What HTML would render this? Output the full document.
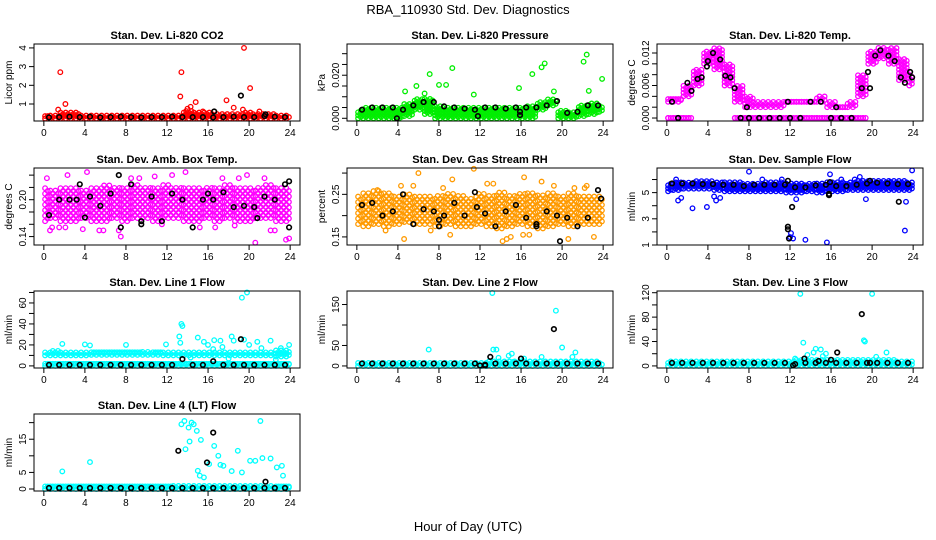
<!DOCTYPE html>
<html><head><meta charset="utf-8"><style>
html,body{margin:0;padding:0;background:#fff;}
svg{display:block;font-family:"Liberation Sans",Arial,sans-serif;}
</style></head><body>
<svg id="chart" width="936" height="540" viewBox="0 0 936 540" xmlns="http://www.w3.org/2000/svg">
<rect x="0" y="0" width="936" height="540" fill="#fff"/>
<text x="468" y="14" text-anchor="middle" font-size="13">RBA_110930  Std. Dev. Diagnostics</text>
<text x="468" y="531" text-anchor="middle" font-size="13">Hour of Day (UTC)</text>
</svg>
<script>
// ---------- data (hourly clouds t=0..24, black series t=i+0.5) ----------
const xTicks = [0,4,8,12,16,20,24];

const co2Lo = [0.22,0.22,0.22,0.22,0.22,0.22,0.22,0.22,0.22,0.22,0.22,0.22,0.22,0.22,0.22,0.22,0.22,0.22,0.22,0.22,0.22,0.22,0.22,0.22,0.22];
const co2Hi = [0.35,0.45,0.6,0.55,0.45,0.45,0.4,0.4,0.4,0.4,0.4,0.45,0.4,0.45,0.7,0.6,0.55,0.5,0.5,0.5,0.55,0.5,0.5,0.45,0.4];
const co2OutT = [1.6,2.1,1.4,13.4,13.3,14.8,14.3,14.0,17.8,18.5,19.5,20.1,19.4,15.5,21.0];
const co2OutV = [2.7,1.0,0.7,2.7,1.4,1.1,0.85,0.75,1.2,0.8,4.0,1.85,0.7,0.6,0.6];
const co2Black = [0.28,0.3,0.32,0.3,0.32,0.28,0.3,0.32,0.3,0.28,0.3,0.3,0.32,0.3,0.3,0.3,0.28,0.3,0.32,0.3,0.3,0.35,0.32,0.3];
const co2BlkT = [19.2,16.6,21.6];
const co2BlkV = [1.45,0.6,0.45];

const presLo = [0,0,0,0,0,0.001,0.004,0.002,0,0,0,0,0,0,0,0,0,0,0.004,0.006,0,0,0.001,0.002,0.003];
const presHi = [0.004,0.005,0.005,0.005,0.005,0.007,0.009,0.009,0.006,0.005,0.005,0.005,0.005,0.005,0.005,0.005,0.005,0.006,0.008,0.009,0.004,0.003,0.006,0.007,0.006];
const presOutT = [4.7,5.8,7.1,8.0,8.7,9.3,6.6,11.4,15.8,17.1,18.0,18.3,19.2,22.1,22.4,22.6,23.9];
const presOutV = [0.0125,0.015,0.0205,0.0155,0.0155,0.0233,0.0115,0.011,0.014,0.0205,0.0237,0.0255,0.0125,0.0263,0.0296,0.0127,0.0183];
const presBlack = [0.004,0.005,0.005,0.005,0.004,0.006,0.0075,0.0075,0.0055,0.005,0.0045,0.004,0.005,0.005,0.0045,0.005,0.005,0.005,0.006,0.008,0.0025,0.003,0.006,0.006];
const presBlkT = [3.9,11.8,15.9,15.9];
const presBlkV = [0,0.001,0.0015,0.003];

const tempLo = [0.003,0.003,0.004,0.006,0.010,0.009,0.006,0.003,0.002,0.002,0.002,0.002,0.003,0.003,0.003,0.003,0.002,0.002,0.002,0.004,0.010,0.011,0.010,0.007,0.006];
const tempHi = [0.0035,0.0035,0.006,0.009,0.0125,0.013,0.010,0.006,0.004,0.003,0.003,0.003,0.003,0.003,0.003,0.004,0.003,0.002,0.003,0.008,0.0125,0.013,0.013,0.011,0.008];
const tempZeroLo = [0,0,0,0,0,0,0,0,0,0,0,0,0,0,0,0,0,0,0,0,0,0,0,0,0];
const tempZeroHi = [0,0,0,null,null,null,null,0,0,0,0,0,0,0,0,0,0,0,0,0,null,null,null,null,null];
const tempBlkT = [0.5,1.1,2.0,2.4,3.0,3.4,3.9,4.0,4.5,5.2,5.7,6.2,6.6,7.2,7.8,8,9,10,11,11.8,12,13,14,15,16,16.5,17,18,19,19.6,19.8,20.3,20.8,21.6,22.2,22.8,23.2,23.7,23.9];
const tempBlkV = [0.003,0,0.0065,0.005,0.0072,0.0075,0.0095,0.0105,0.012,0.0108,0.0078,0.0075,0.0055,0,0.002,0,0,0,0,0.003,0,0,0.003,0.003,0,0.002,0,0,0.0055,0.0085,0.0055,0.0115,0.0125,0.0115,0.0105,0.0075,0.0065,0.0085,0.0075];

const ambLo = [0.165,0.17,0.165,0.165,0.17,0.165,0.165,0.17,0.165,0.17,0.17,0.165,0.17,0.17,0.165,0.165,0.17,0.165,0.17,0.165,0.165,0.17,0.17,0.165,0.165];
const ambHi = [0.22,0.215,0.22,0.22,0.215,0.22,0.225,0.22,0.22,0.225,0.22,0.22,0.225,0.22,0.22,0.22,0.22,0.22,0.225,0.22,0.22,0.22,0.225,0.22,0.22];
const ambOutT = [0.3,0.6,2.3,4.2,5.8,7.3,7.5,8.5,9.3,11.5,13.8,15.2,17.4,19,20.6,21.5,22.1,23.6,23.9,0.8,1.5,2.1,3.8,5.4,10.8,12.5,16.7,18.6,19.8,22.5];
const ambOutV = [0.235,0.15,0.24,0.245,0.15,0.15,0.14,0.235,0.235,0.16,0.245,0.155,0.235,0.235,0.13,0.235,0.15,0.135,0.137,0.155,0.155,0.155,0.152,0.150,0.238,0.24,0.155,0.158,0.24,0.15];
const ambBlack = [0.175,0.2,0.2,0.225,0.205,0.19,0.21,0.155,0.225,0.165,0.205,0.165,0.21,0.2,0.155,0.2,0.2,0.212,0.188,0.19,0.188,0.205,0.2,0.225];
const ambBlkT = [3.2,4,7.3,9.5,16,20.8,23.9,23.9];
const ambBlkV = [0.2,0.171,0.24,0.16,0.21,0.17,0.155,0.23];

const rhLo = [0.18,0.175,0.18,0.175,0.18,0.185,0.18,0.18,0.175,0.18,0.175,0.175,0.18,0.175,0.17,0.175,0.18,0.175,0.17,0.175,0.18,0.175,0.18,0.18,0.18];
const rhHi = [0.25,0.255,0.26,0.255,0.25,0.25,0.25,0.25,0.25,0.255,0.25,0.245,0.255,0.25,0.255,0.25,0.255,0.255,0.25,0.255,0.25,0.255,0.25,0.25,0.25];
const rhOutT = [2,4.3,4.6,5.5,6,7.2,8.4,9.3,11.4,12.7,13.3,14.2,14.6,15,16.3,16.8,18,19.2,20.6,21.2,22.4,23.1,22.2,9.1,2.8,16.2];
const rhOutV = [0.26,0.27,0.145,0.27,0.3,0.165,0.265,0.285,0.31,0.275,0.275,0.14,0.145,0.15,0.29,0.155,0.28,0.27,0.145,0.265,0.27,0.15,0.265,0.155,0.165,0.155];
const rhBlack = [0.225,0.23,0.2,0.21,0.25,0.18,0.215,0.21,0.2,0.23,0.2,0.255,0.205,0.175,0.21,0.225,0.195,0.175,0.21,0.2,0.195,0.175,0.195,0.26];
const rhBlkT = [8,8,11.7,17.5,19.8,23.8];
const rhBlkV = [0.175,0.19,0.22,0.18,0.14,0.24];

const flowLo = [5.1,5.2,5.3,5.3,5.3,5.2,5.1,5.1,5.1,5.1,5.1,5.1,5.0,5.0,5.1,5.0,5.1,5.1,5.2,5.2,5.2,5.2,5.2,5.2,5.2];
const flowHi = [5.7,5.8,5.8,5.9,5.9,5.8,5.8,5.8,5.7,5.7,5.8,5.8,5.8,5.7,5.7,5.7,5.8,5.8,5.8,5.9,5.9,5.9,6.0,5.9,5.8];
const flowOutT = [0.9,1.4,1.1,2.5,3.9,4.6,4.8,5.2,8.0,9.3,11.2,12.6,12.1,12.3,13.5,15.6,15.9,17,18.3,18.8,19.4,21.8,23.2,23.3,23.9,12.0];
const flowOutV = [6.0,4.6,4.4,3.8,3.9,4.7,4.4,4.6,6.6,6.0,6.0,4.5,1.9,1.5,1.4,1.2,6.4,6.0,6.0,6.2,4.5,5.8,2.1,4.3,6.7,1.6];
const flowBlack = [5.7,5.7,5.7,5.65,5.65,5.6,5.6,5.5,5.6,5.6,5.6,5.6,5.4,5.4,5.55,5.6,5.5,5.5,5.6,5.7,5.75,5.7,5.65,5.65];
const flowBlkT = [11.8,11.8,11.9,12.2,15.8,15.8,19.8,22.6,11.8,15.9];
const flowBlkV = [2.4,2.2,1.5,3.9,4.8,4.9,5.9,4.3,5.9,5.8];

const l1Lo = [10,10,10,10,10,10.5,10.5,10.5,10.5,10.5,10.5,10.5,10,10,10,10,10,10,10,10,10,10,10,9,9];
const l1Hi = [13.5,14.5,13.5,13,13,13,13,13,13,13,13.5,13,13,13,13,14,14,13,14,13,13,13,14,15,15];
const l1BaseLo = [0,0,0,0,0,0,0,0,0,0,0,0,0,0,0,0,0,0,0,0,0,0,0,0,0];
const l1BaseHi = [2,2,2,2,2,2,2,2,2,2,2,2,2,2,2,2,2,2,2,2,2,2,2,2,2];
const l1OutT = [1.8,4,4.5,8,11.9,13.2,13.4,13.3,13.5,15,15.6,16,16.6,17.2,18,18.3,18.5,19.3,19.8,20,20.8,21.2,22.1,22.6,23.1,23.9,19.5,14.3,16.5,17.4];
const l1OutV = [21,20.5,19.5,20,20.5,28,40,22,38,27,23,20,24.5,24,7,28,24,65,70,20,23,17,24,6,17,20,25,8,16,18];
const l1Black = [1,1,1,1,1,1,1,1,1,1,1,1,1,6.5,1,1,4.5,1,1,1,1,1,1,1];
const l1BlkT = [19.2];
const l1BlkV = [25.5];

const l2Lo = [0,0,0,0,0,0,0,0,0,0,0,0,0,0,0,0,0,0,0,0,0,0,0,0,0];
const l2Hi = [10,10,10,10,10,10,10,10,10,10,10,10,10,12,12,12,12,12,12,12,12,12,12,12,10];
const l2OutT = [7,13.2,13.3,13.6,15.1,19.4,20,21,21.3,13.8,16.3,18,14.8,15.2];
const l2OutV = [40,178,40,40,30,135,45,22,33,20,18,22,25,10];
const l2Black = [6,6,6,6,6,6,6,6,6,6,6,6,3,6,6,6,6,6,6,6,6,6,6,6];
const l2BlkT = [12,13,16,19.2,12.5];
const l2BlkV = [1,22,18,90,1];

const l3Lo = [0,0,0,0,0,0,0,0,0,0,0,0,0,0,0,0,0,0,0,0,0,0,0,0,0];
const l3Hi = [8,8,8,8,8,8,8,8,8,8,8,8,8,10,10,10,10,10,10,10,10,10,10,8,8];
const l3OutT = [13,13.3,13.7,14.3,14.5,15,15.2,15.5,19.2,19.3,20,20.4,21.4,12.5];
const l3OutV = [118,38,18,22,28,27,16,20,42,40,118,15,22,12];
const l3Black = [5,5,5,5,5,5,5,5,5,5,5,5,3,5,5,5,5,5,5,5,5,5,5,5];
const l3BlkT = [12.3,13.4,14.8,16.6,19.0,16,19.8];
const l3BlkV = [1,12,8,22,85,10,5];

const l4Lo = [0,0,0,0,0,0,0,0,0,0,0,0,0,0,0,0,0,0,0,0,0,0,0,0,0];
const l4Hi = [0.8,0.8,0.8,0.8,0.8,0.8,0.8,0.8,0.8,0.8,0.8,0.8,0.8,1.2,1.2,1.2,1.2,1.0,1.0,1.0,1.0,1.0,1.0,0.8,0.8];
const l4OutT = [1.8,4.5,13.4,13.7,14.1,14.4,14.6,14.9,15,15.3,15.6,16.1,16.6,17,17.5,18.3,18.9,19.3,20.1,21.1,21.3,22.1,22.7,23.2,23.3,14.2,13.8,15.2,17.2,20.6];
const l4OutV = [5.3,8.1,19.5,20.5,18.5,20,19.5,17.5,5.5,14.8,3.5,7.5,13,10,7,5.4,11.5,5,8.5,20.5,9.3,9.2,6.5,7,4,14.3,12,4,7.3,8.5];
const l4Black = [0.3,0.3,0.3,0.3,0.3,0.3,0.3,0.3,0.3,0.3,0.3,0.3,0.3,0.3,0.3,0.3,0.3,0.3,0.3,0.3,0.3,0.3,0.3,0.3];
const l4BlkT = [13.1,15.9,16.5,21.6];
const l4BlkV = [11.5,8,17,2.2];

const yTicksCO2 = [1,2,3,4], yLabsCO2 = ["1","2","3","4"];
const yTicksPres = [0,0.005,0.01,0.015,0.02,0.025,0.03], yLabsPres = ["0.000","","","","0.020","",""];
const yTicksTemp = [0,0.002,0.004,0.006,0.008,0.010,0.012], yLabsTemp = ["0.000","","","0.006","","","0.012"];
const yTicksAmb = [0.14,0.16,0.18,0.20,0.22,0.24], yLabsAmb = ["0.14","","","0.20","",""];
const yTicksRH = [0.15,0.20,0.25,0.30], yLabsRH = ["0.15","","0.25",""];
const yTicksFlow = [1,2,3,4,5,6], yLabsFlow = ["1","","3","","5",""];
const yTicksL1 = [0,10,20,30,40,50,60,70], yLabsL1 = ["0","","20","","40","","60",""];
const yTicksL2 = [0,50,100,150], yLabsL2 = ["0","50","","150"];
const yTicksL3 = [0,20,40,60,80,100,120], yLabsL3 = ["0","","40","","80","","120"];
const yTicksL4 = [0,5,10,15,20], yLabsL4 = ["0","5","","15",""];

// ---------- layout ----------
const SVGNS = "http://www.w3.org/2000/svg";
const svg = document.getElementById('chart');
const colL = [34,347,657], rowT = [44,168,291,414], BW = 266, BH = 77;

const panels = [
 {name:'co2',title:'Stan. Dev. Li-820 CO2',ylab:'Licor ppm',c:0,r:0,ymin:0.09,ymax:4.21,col:'#ff0000',step:3,clouds:[[co2Lo,co2Hi]],outT:co2OutT,outV:co2OutV,black:co2Black,bT:co2BlkT,bV:co2BlkV,yt:yTicksCO2,yl:yLabsCO2},
 {name:'pressure',title:'Stan. Dev. Li-820 Pressure',ylab:'kPa',c:1,r:0,ymin:-0.00126,ymax:0.0345,col:'#00ee00',step:3,clouds:[[presLo,presHi]],outT:presOutT,outV:presOutV,black:presBlack,bT:presBlkT,bV:presBlkV,yt:yTicksPres,yl:yLabsPres},
 {name:'temp',title:'Stan. Dev. Li-820 Temp.',ylab:'degrees C',c:2,r:0,ymin:-0.00055,ymax:0.01366,col:'#ff00ff',step:3.5,clouds:[[tempLo,tempHi],[tempZeroLo,tempZeroHi]],outT:[],outV:[],black:[],bT:tempBlkT,bV:tempBlkV,yt:yTicksTemp,yl:yLabsTemp},
 {name:'amb-temp',title:'Stan. Dev. Amb. Box Temp.',ylab:'degrees C',c:0,r:1,ymin:0.1263,ymax:0.2516,col:'#ff00ff',step:5.5,clouds:[[ambLo,ambHi]],outT:ambOutT,outV:ambOutV,black:ambBlack,bT:ambBlkT,bV:ambBlkV,yt:yTicksAmb,yl:yLabsAmb},
 {name:'rh',title:'Stan. Dev. Gas Stream RH',ylab:'percent',c:1,r:1,ymin:0.131,ymax:0.3119,col:'#ff9a00',step:5.5,clouds:[[rhLo,rhHi]],outT:rhOutT,outV:rhOutV,black:rhBlack,bT:rhBlkT,bV:rhBlkV,yt:yTicksRH,yl:yLabsRH},
 {name:'sample-flow',title:'Stan. Dev. Sample Flow',ylab:'ml/min',c:2,r:1,ymin:1.0,ymax:6.88,col:'#0000ff',step:3,clouds:[[flowLo,flowHi]],outT:flowOutT,outV:flowOutV,black:flowBlack,bT:flowBlkT,bV:flowBlkV,yt:yTicksFlow,yl:yLabsFlow},
 {name:'line1',title:'Stan. Dev. Line 1 Flow',ylab:'ml/min',c:0,r:2,ymin:-2,ymax:71.4,col:'#00ffff',step:3,clouds:[[l1Lo,l1Hi],[l1BaseLo,l1BaseHi]],outT:l1OutT,outV:l1OutV,black:l1Black,bT:l1BlkT,bV:l1BlkV,yt:yTicksL1,yl:yLabsL1},
 {name:'line2',title:'Stan. Dev. Line 2 Flow',ylab:'ml/min',c:1,r:2,ymin:-5,ymax:183,col:'#00ffff',step:3,clouds:[[l2Lo,l2Hi]],outT:l2OutT,outV:l2OutV,black:l2Black,bT:l2BlkT,bV:l2BlkV,yt:yTicksL2,yl:yLabsL2},
 {name:'line3',title:'Stan. Dev. Line 3 Flow',ylab:'ml/min',c:2,r:2,ymin:-3.4,ymax:122.8,col:'#00ffff',step:3,clouds:[[l3Lo,l3Hi]],outT:l3OutT,outV:l3OutV,black:l3Black,bT:l3BlkT,bV:l3BlkV,yt:yTicksL3,yl:yLabsL3},
 {name:'line4',title:'Stan. Dev. Line 4 (LT) Flow',ylab:'ml/min',c:0,r:3,ymin:-0.6,ymax:22.6,col:'#00ffff',step:3,clouds:[[l4Lo,l4Hi]],outT:l4OutT,outV:l4OutV,black:l4Black,bT:l4BlkT,bV:l4BlkV,yt:yTicksL4,yl:yLabsL4}
];

function mk(tag, attrs, parent){
  const el = document.createElementNS(SVGNS, tag);
  for (const k in attrs) el.setAttribute(k, attrs[k]);
  parent.appendChild(el);
  return el;
}

panels.forEach(p => {
  const L = colL[p.c], T = rowT[p.r], B = T + BH;
  const xs = t => L + (t + 0.96) / 25.92 * BW;
  const ys = v => B - (v - p.ymin) / (p.ymax - p.ymin) * BH;
  const g = mk('g', {}, svg);
  
  

  const pts = mk('g', {fill:'none','stroke-width':'1.3'}, g);
  
  
  const dot = (t, v, color, kind, sw) => {
    const c = mk('circle', {cx:xs(t).toFixed(1), cy:ys(v).toFixed(1), r:'2.3', stroke:color}, pts);
    if (sw) c.setAttribute('stroke-width', sw);
    
    
  };
  const dv = (p.ymax - p.ymin) / BH * p.step;
  p.clouds.forEach(([lo, hi]) => {
    for (let i = 0; i < lo.length; i++) {
      if (hi[i] === null || lo[i] === null) continue;
      for (let s = 0; s < 4; s++) {
        const t = i + (s - 1.5) * 0.25;
        if (t < 0 || t > 24) continue;
        const off = (s % 2) * dv / 2;
        for (let v = lo[i] + off; v <= hi[i] + 1e-12; v += dv) dot(t, v, p.col, p.name + '-cloud-point');
        if (hi[i] - lo[i] < dv) dot(t, hi[i], p.col, p.name + '-cloud-point');
      }
    }
  });
  for (let i = 0; i < p.outT.length; i++) dot(p.outT[i], p.outV[i], p.col, p.name + '-outlier-point');
  for (let i = 0; i < p.black.length; i++) dot(i + 0.5, p.black[i], '#000', p.name + '-mean-point', '1.6');
  for (let i = 0; i < p.bT.length; i++) dot(p.bT[i], p.bV[i], '#000', p.name + '-mean-point', '1.6');

  const box = mk('rect', {x:L, y:T, width:BW, height:BH, fill:'none', stroke:'#000', 'stroke-width':'1'}, g);
  
  
  const tt = mk('text', {x:L + BW/2, y:T - 5, 'text-anchor':'middle', 'font-size':'11', 'font-weight':'bold'}, g);
  tt.textContent = p.title;
  
  
  const xa = mk('g', {}, g);
  
  
  mk('line', {x1:xs(0), x2:xs(24), y1:B, y2:B, stroke:'#000'}, xa);
  xTicks.forEach(t => {
    mk('line', {x1:xs(t), x2:xs(t), y1:B, y2:B + 5, stroke:'#000'}, xa);
    const lb = mk('text', {x:xs(t), y:B + 15, 'text-anchor':'middle', 'font-size':'10'}, xa);
    lb.textContent = t;
    
    
  });
  const ya = mk('g', {}, g);
  
  
  p.yt.forEach((v, k) => {
    const y = ys(v);
    if (y < T - 0.5 || y > B + 0.5) return;
    mk('line', {x1:L - 5, x2:L, y1:y, y2:y, stroke:'#000'}, ya);
    if (p.yl[k]) {
      const lb = mk('text', {x:0, y:0, 'text-anchor':'middle', 'font-size':'10', transform:`translate(${L - 8},${y}) rotate(-90)`}, ya);
      lb.textContent = p.yl[k];
      
      
    }
  });
  const yt = mk('text', {x:0, y:0, 'text-anchor':'middle', 'font-size':'10', transform:`translate(${L - 22},${T + BH/2}) rotate(-90)`}, g);
  yt.textContent = p.ylab;
  
  
});
</script>
</body></html>
